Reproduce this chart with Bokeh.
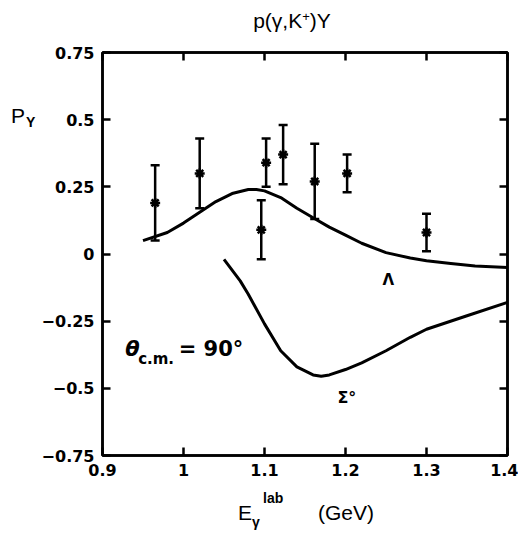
from bokeh.plotting import figure
from bokeh.models import (Range1d, FixedTicker, LinearAxis, Label, Whisker,
                          ColumnDataSource, TeeHead, Div)
from bokeh.layouts import column, row
from bokeh.embed import file_html
from bokeh.resources import INLINE

# ---- data ----
energy = [0.965, 1.02, 1.102, 1.096, 1.123, 1.162, 1.202, 1.30]
polar = [0.19, 0.30, 0.34, 0.09, 0.37, 0.27, 0.30, 0.08]
err_hi = [0.33, 0.43, 0.43, 0.20, 0.48, 0.41, 0.37, 0.15]
err_lo = [0.05, 0.17, 0.25, -0.02, 0.26, 0.13, 0.23, 0.01]

lam_e = [0.95, 0.98, 1.00, 1.02, 1.04, 1.06, 1.08, 1.09, 1.10, 1.12, 1.14,
         1.16, 1.18, 1.20, 1.22, 1.25, 1.28, 1.30, 1.33, 1.36, 1.40]
lam_p = [0.05, 0.08, 0.115, 0.155, 0.195, 0.225, 0.24, 0.24, 0.235, 0.21,
         0.17, 0.135, 0.10, 0.07, 0.04, 0.005, -0.015, -0.025, -0.035,
         -0.045, -0.05]

sig_e = [1.05, 1.06, 1.07, 1.08, 1.10, 1.12, 1.14, 1.16, 1.17, 1.18, 1.20,
         1.22, 1.25, 1.28, 1.30, 1.35, 1.40]
sig_p = [-0.02, -0.06, -0.10, -0.15, -0.26, -0.36, -0.42, -0.45, -0.455,
         -0.45, -0.43, -0.405, -0.36, -0.31, -0.28, -0.23, -0.18]

x_ticks = [0.9, 1.0, 1.1, 1.2, 1.3, 1.4]
x_labels = ["0.9", "1", "1.1", "1.2", "1.3", "1.4"]
y_ticks = [-0.75, -0.5, -0.25, 0.0, 0.25, 0.5, 0.75]
y_labels = ["\u22120.75", "\u22120.5", "\u22120.25", "0", "0.25", "0.5", "0.75"]

title_text = "p(\u03b3,K<sup style='font-size:0.62em;line-height:0;vertical-align:0.52em'>+</sup>)Y"

FONT = "DejaVu Sans"
HFONT = "'Liberation Sans', Arial, sans-serif"

TOP_H, LEFT_W, BOT_H = 40, 38, 43
FIG_W, FIG_H = 480, 450

p = figure(width=FIG_W, height=FIG_H, output_backend="svg",
           toolbar_location=None,
           x_range=Range1d(0.9, 1.4), y_range=Range1d(-0.75, 0.75),
           min_border_left=64, min_border_right=11, min_border_top=12,
           min_border_bottom=35, x_axis_location=None, y_axis_location=None)
p.margin = 0
p.grid.visible = False
p.outline_line_color = "black"
p.outline_line_width = 2.5
p.background_fill_color = "white"
p.border_fill_color = "white"


def make_axis(ticks, labels, show_labels):
    ax = LinearAxis(ticker=FixedTicker(ticks=ticks))
    ax.major_label_overrides = {t: l for t, l in zip(ticks, labels)}
    ax.major_tick_in = 8
    ax.major_tick_out = 0
    ax.minor_tick_line_color = None
    ax.major_tick_line_width = 2.5
    ax.axis_line_width = 2.5
    ax.major_label_text_font = FONT
    ax.major_label_text_font_style = "bold"
    ax.major_label_text_font_size = "16px"
    ax.major_label_text_color = "black"
    ax.major_label_standoff = 8
    if not show_labels:
        ax.major_label_text_alpha = 0
        ax.major_label_standoff = 0
    return ax


p.add_layout(make_axis(y_ticks, y_labels, True), "left")
p.add_layout(make_axis(x_ticks, x_labels, True), "below")
p.add_layout(make_axis(x_ticks, x_labels, False), "above")
p.add_layout(make_axis(y_ticks, y_labels, False), "right")

# curves
p.line(lam_e, lam_p, line_color="black", line_width=3)
p.line(sig_e, sig_p, line_color="black", line_width=3)

# data with error bars
src = ColumnDataSource(dict(x=energy, y=polar, hi=err_hi, lo=err_lo))
wh = Whisker(source=src, base="x", upper="hi", lower="lo", dimension="height",
             line_color="black", line_width=2.5,
             upper_head=TeeHead(size=9, line_width=2.5, line_color="black"),
             lower_head=TeeHead(size=9, line_width=2.5, line_color="black"))
p.add_layout(wh)
p.scatter("x", "y", source=src, marker="asterisk", size=10,
          line_color="black", line_width=2.5)


def lab(x, y, text, size, style="bold", align="left", font=FONT):
    p.add_layout(Label(x=x, y=y, text=text, text_font=font,
                       text_font_size=size, text_font_style=style,
                       text_align=align, text_baseline="alphabetic",
                       text_color="black"))


# in-frame annotations
lab(0.928, -0.354, "\u03b8", "21px", style="bold italic")
lab(0.944, -0.392, "c.m.", "15px", style="bold")
lab(0.994, -0.354, "= 90\u00b0", "21px", style="bold")
lab(1.2457, -0.097, "\u039b", "15px", style="bold")
lab(1.190, -0.534, "\u03a3\u00b0", "16px", style="bold")


def span(left, top, text, fs, weight="normal", width=None, align="left"):
    w = f"width:{width}px;text-align:{align};" if width else ""
    return (f"<div style=\"position:absolute;left:{left}px;top:{top}px;{w}"
            f"font-size:{fs}px;line-height:{fs}px;font-family:{HFONT};"
            f"font-weight:{weight};white-space:nowrap;color:#000\">{text}</div>")


def box(w, h, inner):
    return (f"<div style=\"position:relative;width:{w}px;height:{h}px;"
            f"overflow:visible;background:#fff\">{inner}</div>")


top_div = Div(width=LEFT_W + FIG_W, height=TOP_H, margin=0,
              text=box(LEFT_W + FIG_W, TOP_H,
                       span(192, 10, title_text, 21, width=200, align="center")))
left_div = Div(width=LEFT_W, height=FIG_H, margin=0,
               text=box(LEFT_W, FIG_H,
                        span(11, 65, "P", 21) + span(26, 75, "Y", 14, "bold")))
bot_div = Div(width=LEFT_W + FIG_W, height=BOT_H, margin=0,
              text=box(LEFT_W + FIG_W, BOT_H,
                       span(238, 12, "E", 21) + span(252, 25, "\u03b3", 14, "bold")
                       + span(263, 1, "lab", 14, "bold")
                       + span(318, 12, "(GeV)", 21)))

layout = column(top_div, row(left_div, p, spacing=0), bot_div, spacing=0)

open("out.html", "w").write(file_html(layout, INLINE))
